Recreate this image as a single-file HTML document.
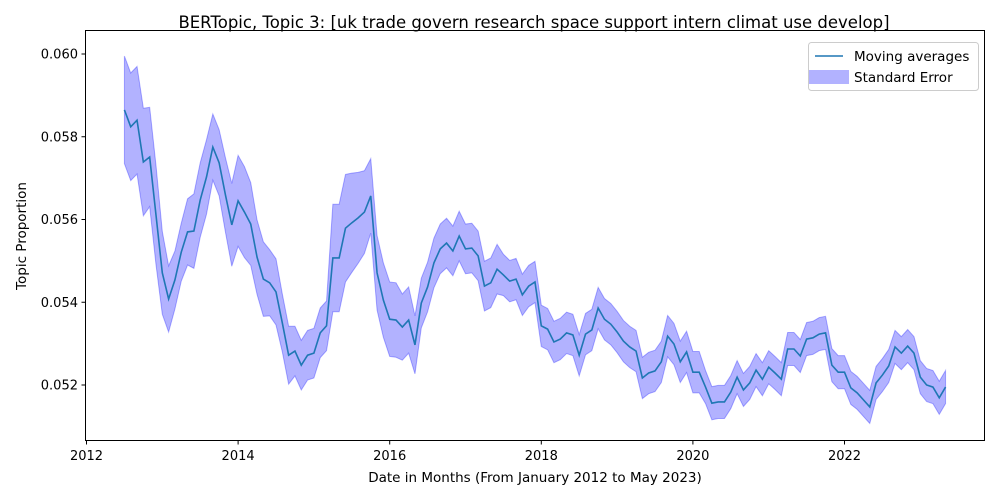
<!DOCTYPE html>
<html><head><meta charset="utf-8">
<style>
html,body{margin:0;padding:0;background:#fff;}
svg{display:block;font-family:"DejaVu Sans","Liberation Sans",sans-serif;}
</style></head>
<body>
<svg id="chart" width="1000" height="500" viewBox="0 0 1000 500" xmlns="http://www.w3.org/2000/svg">
<rect x="0" y="0" width="1000" height="500" fill="#fff"/>
<text x="534" y="28" text-anchor="middle" font-size="16.5">BERTopic, Topic 3: [uk trade govern research space support intern climat use develop]</text>
<g id="plot"></g>
<rect x="85.5" y="30.5" width="899" height="410" fill="none" stroke="#000" stroke-width="1"/>
<g id="axes"></g>
<text x="535" y="482" text-anchor="middle" font-size="13.5">Date in Months (From January 2012 to May 2023)</text>
<text transform="translate(26,236) rotate(-90)" text-anchor="middle" font-size="13.5">Topic Proportion</text>
<g>
<rect x="808.5" y="42.5" width="170" height="48" rx="3" fill="#fff" fill-opacity="0.8" stroke="#ccc"/>
<line x1="815" y1="56" x2="843" y2="56" stroke="#1f77b4" stroke-width="1.5"/>
<text x="854" y="61" font-size="13.5">Moving averages</text>
<rect x="809" y="70" width="40" height="14" fill="#0000ff" fill-opacity="0.3"/>
<text x="854" y="82" font-size="13.5">Standard Error</text>
</g>
</svg>
<script>
const startYear = 2012, startMonth = 7; // July 2012
const meanVals = [
0.05865,0.05824,0.05840,0.05739,0.05751,0.05611,0.05471,0.05408,0.05454,0.05521,
0.05570,0.05572,0.05647,0.05703,0.05775,0.05737,0.05659,0.05587,0.05645,0.05618,
0.05589,0.05509,0.05456,0.05447,0.05425,0.05350,0.05272,0.05282,0.05248,0.05272,
0.05277,0.05326,0.05343,0.05507,0.05507,0.05579,0.05592,0.05604,0.05618,0.05657,
0.05471,0.05405,0.05359,0.05357,0.05340,0.05357,0.05297,0.05398,0.05437,0.05495,
0.05529,0.05543,0.05524,0.05560,0.05529,0.05531,0.05512,0.05439,0.05447,0.05480,
0.05466,0.05451,0.05456,0.05418,0.05439,0.05449,0.05343,0.05335,0.05304,0.05311,
0.05326,0.05321,0.05272,0.05323,0.05333,0.05386,0.05359,0.05347,0.05328,0.05306,
0.05292,0.05282,0.05217,0.05229,0.05234,0.05256,0.05318,0.05299,0.05256,0.05280,
0.05231,0.05231,0.05195,0.05156,0.05159,0.05159,0.05183,0.05219,0.05188,0.05205,
0.05236,0.05214,0.05243,0.05229,0.05214,0.05287,0.05287,0.05270,0.05311,0.05314,
0.05323,0.05326,0.05248,0.05231,0.05231,0.05193,0.05181,0.05164,0.05147,0.05205,
0.05224,0.05246,0.05292,0.05277,0.05294,0.05277,0.05219,0.05200,0.05195,0.05169,
0.05195
];
const seVals = [
0.0013,0.0013,0.0013,0.0013,0.0012,0.0012,
0.0010,0.0008,0.0007,0.0007,0.0008,0.0009,0.0009,0.0009,0.0008,0.0008,0.0009,0.0010,
0.0011,0.0011,0.0010,0.0009,0.0009,0.0008,0.0008,0.0007,0.0007,0.0006,0.0006,0.0006,
0.0006,0.0006,0.0006,0.0013,0.0013,0.0013,0.0012,0.0011,0.0010,0.0009,0.0009,0.0009,
0.0009,0.0009,0.0008,0.0008,0.0007,0.0006,0.0006,0.0006,0.0006,0.0006,0.0006,0.0006,
0.0006,0.0006,0.0006,0.0006,0.0006,0.0006,0.0005,0.0005,0.0005,0.0005,0.0005,0.0005,
0.0005,0.0005,0.0005,0.0005,0.0005,0.0005,0.0005,0.0005,0.0005,0.0005,0.0005,0.0005,
0.0005,0.0005,0.0005,0.0005,0.0005,0.0005,0.0005,0.0005,0.0005,0.0005,0.0005,0.0005,
0.0005,0.0005,0.0004,0.0004,0.0004,0.0004,0.0004,0.0004,0.0004,0.0004,0.0004,0.0004,
0.0004,0.0004,0.0004,0.0004,0.0004,0.0004,0.0004,0.0004,0.0004,0.0004,0.0004,0.0004,
0.0004,0.0004,0.0004,0.0004,0.0004,0.0004,0.0004,0.0004,0.0004,0.0004,0.0004,0.0004,
0.0004,0.0004,0.0004,0.0004,0.0004
];
const xTicks = [2012,2014,2016,2018,2020,2022];
const yTicks = [0.052,0.054,0.056,0.058,0.060];
const yTickLabels = ["0.052","0.054","0.056","0.058","0.060"];

const NS = "http://www.w3.org/2000/svg";
function xScale(t){ return 86.5 + (t - 2012) * 75.8; }
function yScale(v){ return 54 + (0.060 - v) / 0.002 * 82.75; }
function monthT(i){ return startYear + (startMonth - 1 + i) / 12; }

const plot = document.getElementById('plot');
let up = [], lo = [], ln = [];
meanVals.forEach((v,i)=>{
  const x = xScale(monthT(i));
  up.push(x.toFixed(2)+','+yScale(v+seVals[i]).toFixed(2));
  lo.unshift(x.toFixed(2)+','+yScale(v-seVals[i]).toFixed(2));
  ln.push(x.toFixed(2)+','+yScale(v).toFixed(2));
});
const band = document.createElementNS(NS,'polygon');
band.setAttribute('points', up.concat(lo).join(' '));
band.setAttribute('fill','#0000ff');
band.setAttribute('fill-opacity','0.3');
band.setAttribute('stroke','#0000ff');
band.setAttribute('stroke-opacity','0.3');


plot.appendChild(band);
const line = document.createElementNS(NS,'polyline');
line.setAttribute('points', ln.join(' '));
line.setAttribute('fill','none');
line.setAttribute('stroke','#1f77b4');
line.setAttribute('stroke-width','1.6');


plot.appendChild(line);

const axes = document.getElementById('axes');
xTicks.forEach(t=>{
  const x = xScale(t);
  const tk = document.createElementNS(NS,'line');
  tk.setAttribute('x1',x);tk.setAttribute('x2',x);tk.setAttribute('y1',441);tk.setAttribute('y2',444.5);
  tk.setAttribute('stroke','#000');
  
  
  axes.appendChild(tk);
  const tx = document.createElementNS(NS,'text');
  tx.setAttribute('x',x);tx.setAttribute('y',460);tx.setAttribute('text-anchor','middle');tx.setAttribute('font-size','13');
  tx.textContent = String(t);
  
  
  axes.appendChild(tx);
});
yTicks.forEach((v,i)=>{
  const y = yScale(v);
  const tk = document.createElementNS(NS,'line');
  tk.setAttribute('x1',81.5);tk.setAttribute('x2',85.5);tk.setAttribute('y1',y);tk.setAttribute('y2',y);
  tk.setAttribute('stroke','#000');
  
  
  axes.appendChild(tk);
  const tx = document.createElementNS(NS,'text');
  tx.setAttribute('x',78);tx.setAttribute('y',y+4.5);tx.setAttribute('text-anchor','end');tx.setAttribute('font-size','13');
  tx.textContent = yTickLabels[i];
  
  
  axes.appendChild(tx);
});
</script>
</body></html>
